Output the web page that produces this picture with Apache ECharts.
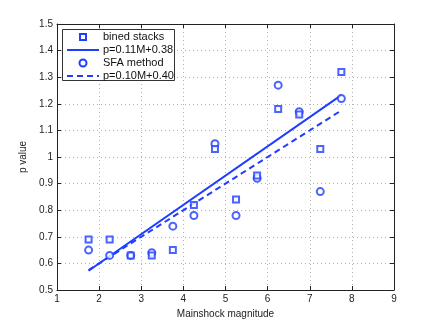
<!DOCTYPE html>
<html><head><meta charset="utf-8">
<script src="https://cdn.jsdelivr.net/npm/echarts@6/dist/echarts.min.js"></script>
<style>html,body{margin:0;padding:0;background:#fff}#c{width:436px;height:326px}</style>
</head><body><div id="c"></div>
<script>
var magnitudes = [1.75, 2.25, 2.75, 3.25, 3.75, 4.25, 4.75, 5.25, 5.75, 6.25, 6.75, 7.25, 7.75];
var binedStacks = [0.69, 0.69, 0.63, 0.63, 0.65, 0.82, 1.03, 0.84, 0.93, 1.18, 1.16, 1.03, 1.32];
var sfaMethod = [0.65, 0.63, 0.63, 0.64, 0.74, 0.78, 1.05, 0.78, 0.92, 1.27, 1.17, 0.87, 1.22];
var fitSolidX = [1.75, 7.75];
var fitSolidY = [0.5725, 1.2325];
var fitDashX = [1.75, 7.75];
var fitDashY = [0.575, 1.175];
var legendNames = ['bined stacks', 'p=0.11M+0.38', 'SFA method', 'p=0.10M+0.40'];

function pairs(xs, ys){ return xs.map(function(x,i){ return [x, ys[i]]; }); }
var BLUE = '#1f3dff';
var FONT = 'Liberation Sans';
var chart = echarts.init(document.getElementById('c'), null, {renderer:'canvas'});
var gridLine = {show:true, lineStyle:{color:'#b0b0b0', type:[1,3], width:1}};

// legend drawn with graphic elements (MATLAB-style box)
var LX = 62, LY = 29, LW = 112, LH = 51, ROW = 13;
var legendEls = [{type:'rect', shape:{x:LX+0.5, y:LY+0.5, width:LW, height:LH},
  style:{fill:'#fff', stroke:'#333', lineWidth:1}, z:100}];
legendNames.forEach(function(n, i){
  var cy = LY + 8 + i*ROW;
  if (i === 0) legendEls.push({type:'rect', shape:{x:80, y:cy-3, width:6, height:6},
    style:{fill:'#fff', stroke:BLUE, lineWidth:2}, z:101});
  if (i === 2) legendEls.push({type:'circle', shape:{cx:83, cy:cy, r:3.5},
    style:{fill:'#fff', stroke:BLUE, lineWidth:2}, z:101});
  if (i === 1) legendEls.push({type:'line', shape:{x1:67, y1:cy, x2:99, y2:cy},
    style:{stroke:BLUE, lineWidth:2}, z:101});
  if (i === 3) legendEls.push({type:'line', shape:{x1:67, y1:cy, x2:99, y2:cy},
    style:{stroke:BLUE, lineWidth:2, lineDash:[6,4]}, z:101});
  legendEls.push({type:'text', x:103, y:cy, style:{text:n, fontFamily:FONT, fontSize:11,
    fill:'#111', textVerticalAlign:'middle', verticalAlign:'middle'}, z:101});
});

chart.setOption({
  animation:false,
  backgroundColor:'#fff',
  grid:{left:57, top:24, right:42, bottom:36, show:false},
  xAxis:[{
    type:'value', min:1, max:9, interval:1, position:'bottom',
    name:'Mainshock magnitude', nameLocation:'middle', nameGap:17,
    nameTextStyle:{fontFamily:FONT, fontSize:10, color:'#222'},
    axisLine:{lineStyle:{color:'#222'}},
    axisTick:{inside:true, length:4, lineStyle:{color:'#222'}},
    axisLabel:{fontFamily:FONT, fontSize:10, color:'#222', margin:4},
    splitLine:gridLine
  },{
    type:'value', min:1, max:9, interval:1, position:'top',
    axisLine:{lineStyle:{color:'#222'}},
    axisTick:{inside:true, length:4, lineStyle:{color:'#222'}},
    axisLabel:{show:false}, splitLine:{show:false}
  }],
  yAxis:[{
    type:'value', min:0.5, max:1.5, interval:0.1, position:'left',
    name:'p value', nameLocation:'middle', nameGap:27, nameRotate:90,
    nameTextStyle:{fontFamily:FONT, fontSize:10, color:'#222'},
    axisLine:{show:true, lineStyle:{color:'#222'}},
    axisTick:{show:true, inside:true, length:4, lineStyle:{color:'#222'}},
    axisLabel:{fontFamily:FONT, fontSize:10, color:'#222', margin:4,
      formatter:function(v){ var r=Math.round(v*10)/10; return String(r); }},
    splitLine:gridLine
  },{
    type:'value', min:0.5, max:1.5, interval:0.1, position:'right',
    axisLine:{show:true, lineStyle:{color:'#222'}},
    axisTick:{show:true, inside:true, length:4, lineStyle:{color:'#222'}},
    axisLabel:{show:false}, splitLine:{show:false}
  }],
  graphic:legendEls,
  series:[
    {name:legendNames[0], type:'scatter', symbol:'rect', symbolSize:6,
     itemStyle:{color:'#fff', borderColor:BLUE, borderWidth:2},
     data:pairs(magnitudes, binedStacks), z:5},
    {name:legendNames[1], type:'line', symbol:'none', showSymbol:false,
     lineStyle:{color:BLUE, width:2, type:'solid'}, itemStyle:{color:BLUE},
     data:pairs(fitSolidX, fitSolidY), z:3},
    {name:legendNames[2], type:'scatter', symbol:'circle', symbolSize:7,
     itemStyle:{color:'#fff', borderColor:BLUE, borderWidth:2},
     data:pairs(magnitudes, sfaMethod), z:4},
    {name:legendNames[3], type:'line', symbol:'none', showSymbol:false,
     lineStyle:{color:BLUE, width:2, type:[6,4]}, itemStyle:{color:BLUE},
     data:pairs(fitDashX, fitDashY), z:3}
  ]
});
</script></body></html>
